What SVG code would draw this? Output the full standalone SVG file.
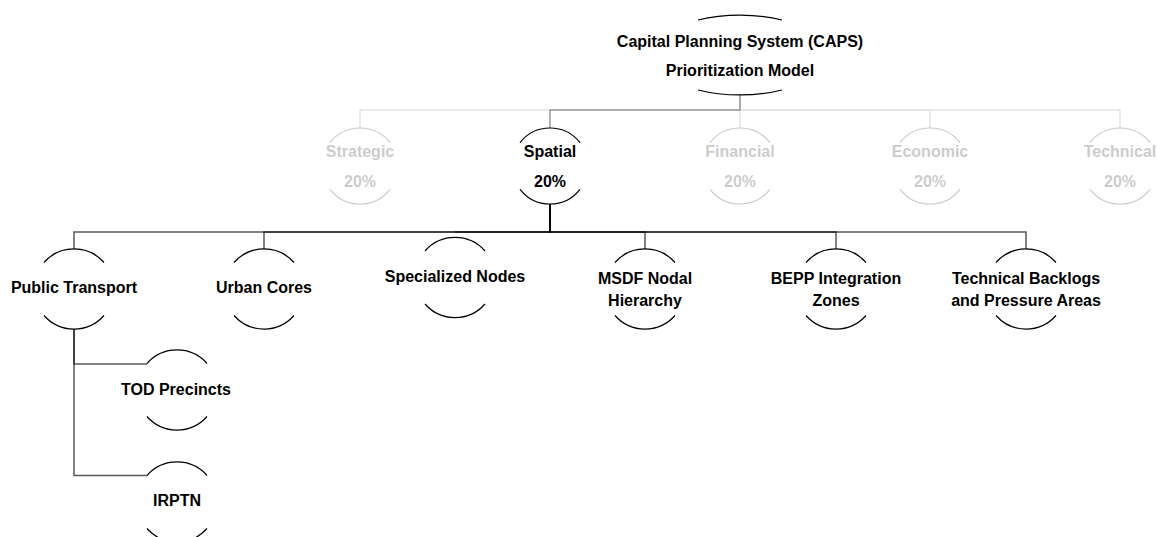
<svg xmlns="http://www.w3.org/2000/svg" width="1157" height="537" viewBox="0 0 1157 537">
<style>
.bg{fill:#fff}
.arc{fill:none;stroke:#000;stroke-width:1.2}
.t{font-family:"Liberation Sans",Arial,sans-serif;font-weight:bold;font-size:16px;fill:#000;text-anchor:middle}
.faded{opacity:0.2}
.lk-faint{fill:none;stroke:#e4e4e4;stroke-width:1.5}
.lk-main{fill:none;stroke:#999;stroke-width:1.5}
.lk{fill:none;stroke:#000;stroke-opacity:0.65;stroke-width:1.5}
</style>
<rect class="bg" x="0" y="0" width="1157" height="537"/>
<g id="connectors">
  <path class="lk-faint" d="M740,95 V110 H360 V128"/>
  <path class="lk-faint" d="M740,95 V110 H740 V128"/>
  <path class="lk-faint" d="M740,95 V110 H930 V128"/>
  <path class="lk-faint" d="M740,95 V110 H1120 V128"/>
  <path class="lk-main" d="M740,95 V110 H550 V128"/>
  <path class="lk" d="M550,204 V232 H74 V249"/>
  <path class="lk" d="M550,204 V232 H264 V249"/>
  <path class="lk" d="M550,204 V232 H455"/>
  <path class="lk" d="M550,204 V232 H645 V249"/>
  <path class="lk" d="M550,204 V232 H836 V249"/>
  <path class="lk" d="M550,204 V232 H1026 V249"/>
  <path class="lk" d="M74,329 V364 H147"/>
  <path class="lk" d="M74,329 V475.5 H147"/>
</g>
<g id="root">
  <path class="arc" d="M698,20 A87,40 0 0 1 782,20"/>
  <path class="arc" d="M698,90 A87,40 0 0 0 782,90"/>
  <text class="t" x="740" y="47">Capital Planning System (CAPS)</text>
  <text class="t" x="740" y="76">Prioritization Model</text>
</g>
<g id="strategic" class="faded">
  <path class="arc" d="M330,142.7 A38,38 0 0 1 390,142.7"/>
  <path class="arc" d="M330,189.3 A38,38 0 0 0 390,189.3"/>
  <text class="t" x="360" y="157">Strategic</text>
  <text class="t" x="360" y="187">20%</text>
</g>
<g id="spatial">
  <path class="arc" d="M520,142.7 A38,38 0 0 1 580,142.7"/>
  <path class="arc" d="M520,189.3 A38,38 0 0 0 580,189.3"/>
  <text class="t" x="550" y="157">Spatial</text>
  <text class="t" x="550" y="187">20%</text>
</g>
<g id="financial" class="faded">
  <path class="arc" d="M710,142.7 A38,38 0 0 1 770,142.7"/>
  <path class="arc" d="M710,189.3 A38,38 0 0 0 770,189.3"/>
  <text class="t" x="740" y="157">Financial</text>
  <text class="t" x="740" y="187">20%</text>
</g>
<g id="economic" class="faded">
  <path class="arc" d="M900,142.7 A38,38 0 0 1 960,142.7"/>
  <path class="arc" d="M900,189.3 A38,38 0 0 0 960,189.3"/>
  <text class="t" x="930" y="157">Economic</text>
  <text class="t" x="930" y="187">20%</text>
</g>
<g id="technical" class="faded">
  <path class="arc" d="M1090,142.7 A38,38 0 0 1 1150,142.7"/>
  <path class="arc" d="M1090,189.3 A38,38 0 0 0 1150,189.3"/>
  <text class="t" x="1120" y="157">Technical</text>
  <text class="t" x="1120" y="187">20%</text>
</g>
<g id="public-transport">
  <path class="arc" d="M44,262.5 A40,40 0 0 1 104,262.5"/>
  <path class="arc" d="M44,315.5 A40,40 0 0 0 104,315.5"/>
  <text class="t" x="74" y="293">Public Transport</text>
</g>
<g id="urban-cores">
  <path class="arc" d="M234,262.5 A40,40 0 0 1 294,262.5"/>
  <path class="arc" d="M234,315.5 A40,40 0 0 0 294,315.5"/>
  <text class="t" x="264" y="293">Urban Cores</text>
</g>
<g id="specialized-nodes">
  <path class="arc" d="M425,251 A40,40 0 0 1 485,251"/>
  <path class="arc" d="M425,304 A40,40 0 0 0 485,304"/>
  <text class="t" x="455" y="282">Specialized Nodes</text>
</g>
<g id="msdf">
  <path class="arc" d="M615,262.5 A40,40 0 0 1 675,262.5"/>
  <path class="arc" d="M615,315.5 A40,40 0 0 0 675,315.5"/>
  <text class="t" x="645" y="284">MSDF Nodal</text>
  <text class="t" x="645" y="306">Hierarchy</text>
</g>
<g id="bepp">
  <path class="arc" d="M806,262.5 A40,40 0 0 1 866,262.5"/>
  <path class="arc" d="M806,315.5 A40,40 0 0 0 866,315.5"/>
  <text class="t" x="836" y="284">BEPP Integration</text>
  <text class="t" x="836" y="306">Zones</text>
</g>
<g id="technical-backlogs">
  <path class="arc" d="M996,262.5 A40,40 0 0 1 1056,262.5"/>
  <path class="arc" d="M996,315.5 A40,40 0 0 0 1056,315.5"/>
  <text class="t" x="1026" y="284">Technical Backlogs</text>
  <text class="t" x="1026" y="306">and Pressure Areas</text>
</g>
<g id="tod-precincts">
  <path class="arc" d="M147,363.5 A40,40 0 0 1 207,363.5"/>
  <path class="arc" d="M147,416.5 A40,40 0 0 0 207,416.5"/>
  <text class="t" x="176" y="395">TOD Precincts</text>
</g>
<g id="irptn">
  <path class="arc" d="M147,475.5 A40,40 0 0 1 207,475.5"/>
  <path class="arc" d="M147,528.5 A40,40 0 0 0 207,528.5"/>
  <text class="t" x="177" y="506">IRPTN</text>
</g>
</svg>
